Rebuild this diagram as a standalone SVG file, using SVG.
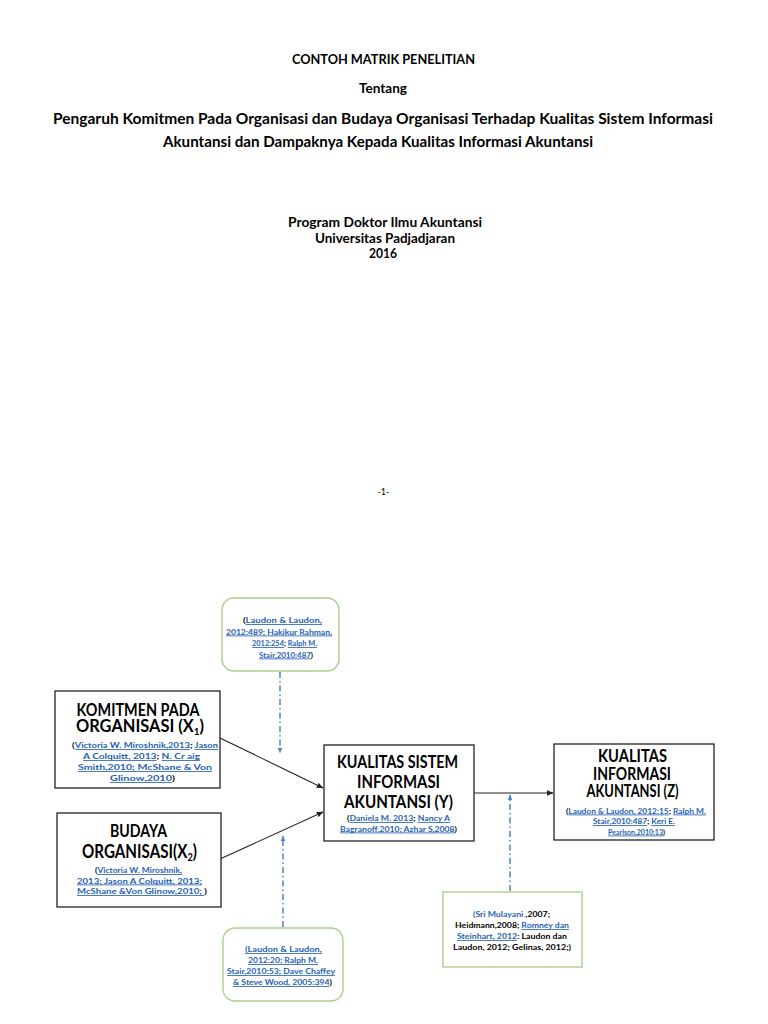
<svg xmlns="http://www.w3.org/2000/svg" width="768" height="1024" viewBox="0 0 768 1024">
<style>
text{font-family:Lato,"Liberation Sans","DejaVu Sans",sans-serif;fill:#000;text-anchor:middle}
.t{font-weight:bold;font-size:13px}
.t2{font-weight:bold;font-size:15.5px}
.h{font-weight:bold;font-size:16.5px}
.s{font-weight:bold;font-size:8.1px}
.l{fill:#1F5FB4;text-decoration:underline}
.b{fill:#1F5FB4}
.box{fill:#fff;stroke:#222;stroke-width:1.3}
.gbox{fill:#fff;stroke:#A9D08E;stroke-width:1.4}
.arr{stroke:#222;stroke-width:1.1;fill:none}
.dash{stroke:#4A86C8;stroke-width:1.5;fill:none;stroke-dasharray:6 3 1.5 3}
</style>
<defs>
<marker id="ah" viewBox="0 0 10 10" refX="9" refY="5" markerWidth="7" markerHeight="7" orient="auto" markerUnits="userSpaceOnUse">
<path d="M0,1 L10,5 L0,9 z" fill="#222"/>
</marker>
<marker id="bh" viewBox="0 0 10 10" refX="9" refY="5" markerWidth="6" markerHeight="6" orient="auto" markerUnits="userSpaceOnUse">
<path d="M0,1 L10,5 L0,9 z" fill="#4A86C8"/>
</marker>
</defs>
<rect width="768" height="1024" fill="#fff"/>

<g id="header">
<text class="t" x="383.5" y="64" textLength="183" lengthAdjust="spacingAndGlyphs">CONTOH MATRIK PENELITIAN</text>
<text class="t" x="383" y="93" textLength="48" lengthAdjust="spacingAndGlyphs">Tentang</text>
<text class="t2" x="383" y="124" textLength="660" lengthAdjust="spacingAndGlyphs">Pengaruh Komitmen Pada Organisasi dan Budaya Organisasi Terhadap Kualitas Sistem Informasi</text>
<text class="t2" x="378" y="147" textLength="430" lengthAdjust="spacingAndGlyphs">Akuntansi dan Dampaknya Kepada Kualitas Informasi Akuntansi</text>
<text class="t" x="385" y="227" textLength="194" lengthAdjust="spacingAndGlyphs">Program Doktor Ilmu Akuntansi</text>
<text class="t" x="385" y="243" textLength="140" lengthAdjust="spacingAndGlyphs">Universitas Padjadjaran</text>
<text class="t" x="383" y="258" textLength="28" lengthAdjust="spacingAndGlyphs">2016</text>
<text x="383.5" y="495" style="font-size:9px">-1-</text>
</g>

<g id="connectors">
<line class="arr" x1="220" y1="738" x2="323" y2="788" marker-end="url(#ah)"/>
<line class="arr" x1="220" y1="859" x2="323" y2="812" marker-end="url(#ah)"/>
<line class="arr" x1="474" y1="793" x2="553" y2="793" marker-end="url(#ah)"/>
<line class="dash" x1="280" y1="672" x2="280" y2="753" marker-end="url(#bh)"/>
<line class="dash" x1="283" y1="927" x2="283" y2="836" marker-end="url(#bh)"/>
<line class="dash" x1="510" y1="891" x2="510" y2="795" marker-end="url(#bh)"/>
</g>

<g id="ref-top">
<rect class="gbox" x="222" y="598" width="117" height="73" rx="12"/>
<text class="s" x="282.5" y="623" textLength="79" lengthAdjust="spacingAndGlyphs">(<tspan class="l">Laudon &amp; Laudon,</tspan></text>
<text class="s" x="279" y="634.5" textLength="106" lengthAdjust="spacingAndGlyphs"><tspan class="l">2012:489; Hakikur Rahman,</tspan></text>
<text class="s" x="284.5" y="646" textLength="65" lengthAdjust="spacingAndGlyphs"><tspan class="l">2012:254</tspan>; <tspan class="l">Ralph M.</tspan></text>
<text class="s" x="286" y="657.5" textLength="54" lengthAdjust="spacingAndGlyphs"><tspan class="l">Stair,2010:487</tspan>)</text>
</g>

<g id="x1">
<rect class="box" x="55" y="691" width="165" height="97"/>
<text class="h" x="138" y="716" textLength="123" lengthAdjust="spacingAndGlyphs">KOMITMEN PADA</text>
<text class="h" x="140" y="732" textLength="128" lengthAdjust="spacingAndGlyphs">ORGANISASI (X<tspan dy="3" style="font-size:10px">1</tspan><tspan dy="-3">)</tspan></text>
<text class="s" x="145" y="748" textLength="146" lengthAdjust="spacingAndGlyphs">(<tspan class="l">Victoria W. Miroshnik,2013</tspan>;  <tspan class="l">Jason</tspan></text>
<text class="s" x="141.5" y="759" textLength="117" lengthAdjust="spacingAndGlyphs"><tspan class="l">A Colquitt, 2013</tspan>;  <tspan class="l">N. Cr aig</tspan></text>
<text class="s" x="145" y="770" textLength="134" lengthAdjust="spacingAndGlyphs"><tspan class="l">Smith,2010;  McShane  &amp; Von</tspan></text>
<text class="s" x="142.5" y="781" textLength="65" lengthAdjust="spacingAndGlyphs"><tspan class="l">Glinow,2010</tspan>)</text>
</g>

<g id="x2">
<rect class="box" x="57" y="813" width="164" height="94"/>
<text class="h" x="138.5" y="837" textLength="57" lengthAdjust="spacingAndGlyphs">BUDAYA</text>
<text class="h" x="139.5" y="858" textLength="115" lengthAdjust="spacingAndGlyphs" style="font-size:18px">ORGANISASI(X<tspan dy="3" style="font-size:11px">2</tspan><tspan dy="-3">)</tspan></text>
<text class="s" x="138.5" y="873" textLength="87" lengthAdjust="spacingAndGlyphs">(<tspan class="l">Victoria W. Miroshnik,</tspan></text>
<text class="s" x="139.5" y="883.5" textLength="125" lengthAdjust="spacingAndGlyphs"><tspan class="l">2013; Jason A Colquitt, 2013;</tspan></text>
<text class="s" x="142" y="894" textLength="130" lengthAdjust="spacingAndGlyphs"><tspan class="l">McShane &amp;Von Glinow,2010; </tspan>)</text>
</g>

<g id="y">
<rect class="box" x="324" y="745" width="150" height="96"/>
<text class="h" x="397.5" y="768" textLength="121" lengthAdjust="spacingAndGlyphs">KUALITAS SISTEM</text>
<text class="h" x="398.5" y="788" textLength="83" lengthAdjust="spacingAndGlyphs">INFORMASI</text>
<text class="h" x="398.5" y="808" textLength="109" lengthAdjust="spacingAndGlyphs">AKUNTANSI (Y)</text>
<text class="s" x="398.5" y="821" textLength="103" lengthAdjust="spacingAndGlyphs">(<tspan class="l">Daniela M. 2013</tspan>; <tspan class="l">Nancy A</tspan></text>
<text class="s" x="398.5" y="831.5" textLength="117" lengthAdjust="spacingAndGlyphs"><tspan class="l">Bagranoff,2010; Azhar S,2008</tspan>)</text>
</g>

<g id="z">
<rect class="box" x="554" y="744" width="160" height="96"/>
<text class="h" x="632.5" y="762" textLength="69" lengthAdjust="spacingAndGlyphs">KUALITAS</text>
<text class="h" x="632" y="779.5" textLength="78" lengthAdjust="spacingAndGlyphs">INFORMASI</text>
<text class="h" x="632.5" y="797" textLength="92" lengthAdjust="spacingAndGlyphs">AKUNTANSI (Z)</text>
<text class="s" x="636" y="813.5" textLength="140" lengthAdjust="spacingAndGlyphs">(<tspan class="l">Laudon &amp; Laudon, 2012:15</tspan>; <tspan class="l">Ralph M.</tspan></text>
<text class="s" x="634" y="824" textLength="82" lengthAdjust="spacingAndGlyphs"><tspan class="l">Stair,2010:487</tspan>; <tspan class="l">Keri E.</tspan></text>
<text class="s" x="636.5" y="834.5" textLength="57" lengthAdjust="spacingAndGlyphs"><tspan class="l">Pearlson,2010:13</tspan>)</text>
</g>

<g id="ref-bottom-right">
<rect class="gbox" x="443" y="892" width="139" height="75"/>
<text class="s" x="511.5" y="917" textLength="77" lengthAdjust="spacingAndGlyphs"><tspan class="b">(Sri Mulayani</tspan> ,2007;</text>
<text class="s" x="512" y="928" textLength="114" lengthAdjust="spacingAndGlyphs">Heidmann,2008; <tspan class="l">Romney dan</tspan></text>
<text class="s" x="512" y="939" textLength="110" lengthAdjust="spacingAndGlyphs"><tspan class="l">Steinhart, 2012</tspan>: Laudon dan</text>
<text class="s" x="512" y="950" textLength="118" lengthAdjust="spacingAndGlyphs">Laudon, 2012; Gelinas, 2012;)</text>
</g>

<g id="ref-bottom-left">
<rect class="gbox" x="223" y="928" width="120" height="73" rx="12"/>
<text class="s" x="283.5" y="952" textLength="77" lengthAdjust="spacingAndGlyphs"><tspan class="l">(Laudon &amp; Laudon,</tspan></text>
<text class="s" x="283" y="963" textLength="70" lengthAdjust="spacingAndGlyphs"><tspan class="l">2012:20; Ralph M.</tspan></text>
<text class="s" x="281" y="974" textLength="108" lengthAdjust="spacingAndGlyphs"><tspan class="l">Stair,2010:53; Dave Chaffey</tspan></text>
<text class="s" x="282.5" y="985" textLength="99" lengthAdjust="spacingAndGlyphs"><tspan class="l">&amp; Steve Wood, 2005:394</tspan>)</text>
</g>
</svg>
